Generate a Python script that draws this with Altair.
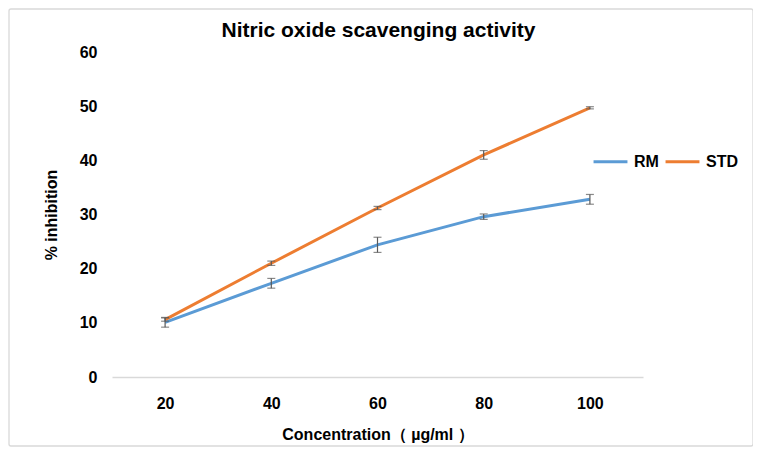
import altair as alt
import pandas as pd

conc = ["20", "40", "60", "80", "100"]
rm = [10.1, 17.3, 24.4, 29.6, 32.8]
rm_err = [0.9, 0.9, 1.4, 0.5, 0.9]
std = [10.6, 21.0, 31.2, 41.0, 49.7]
std_err = [0.3, 0.4, 0.3, 0.8, 0.2]
title_text = "Nitric oxide scavenging activity"

rows = []
for c, v, e in zip(conc, rm, rm_err):
    rows.append({"conc": c, "series": "RM", "value": v, "lo": v - e, "hi": v + e})
for c, v, e in zip(conc, std, std_err):
    rows.append({"conc": c, "series": "STD", "value": v, "lo": v - e, "hi": v + e})
df = pd.DataFrame(rows)

W, H = 531, 325
FONT = "Liberation Sans"

xenc = alt.X("conc:N", sort=conc, scale=alt.Scale(type="point", padding=0.5),
             axis=alt.Axis(title="Concentration\uff08 \u00b5g/ml \uff09", labelAngle=0,
                           domainColor="#D9D9D9", domainWidth=1.3, ticks=False,
                           labelPadding=18, titlePadding=15, labelFontSize=16,
                           labelFontWeight="bold", titleFontSize=16, titleFontWeight="bold",
                           labelFont=FONT, titleFont=FONT, labelColor="#000", titleColor="#000"))

yscale = alt.Scale(domain=[0, 60], nice=False)
yenc = alt.Y("value:Q", scale=yscale,
             axis=alt.Axis(title="% inhibition", values=[0, 10, 20, 30, 40, 50, 60],
                           domain=False, ticks=False, grid=False, labelPadding=15,
                           titlePadding=20, labelFontSize=16, labelFontWeight="bold",
                           titleFontSize=16, titleFontWeight="bold",
                           labelFont=FONT, titleFont=FONT, labelColor="#000", titleColor="#000"))

color = alt.Color("series:N", scale=alt.Scale(domain=["RM", "STD"], range=["#5B9BD5", "#ED7D31"]),
                  legend=alt.Legend(title=None, orient="none", legendX=480, legendY=91,
                                    direction="horizontal", symbolType="stroke",
                                    symbolStrokeWidth=3, symbolSize=1150, labelFontSize=16,
                                    labelFontWeight="bold", labelFont=FONT, labelColor="#000",
                                    columnPadding=0, labelOffset=5))

border = alt.Chart(pd.DataFrame({"a": [0]})).mark_rect(
    fill=None, stroke="#D9D9D9", strokeWidth=1.3, cornerRadius=2
).encode(x=alt.value(-103), x2=alt.value(641), y=alt.value(-43), y2=alt.value(394))

title = alt.Chart(pd.DataFrame({"t": [title_text]})).mark_text(
    fontSize=21, fontWeight="bold", font=FONT, color="#000", baseline="alphabetic", align="center"
).encode(text="t:N", x=alt.value(W / 2 + 1), y=alt.value(-15))

lines = alt.Chart(df).mark_line(strokeWidth=3).encode(x=xenc, y=yenc, color=color)

err = alt.Chart(df).mark_rule(color="#595959", strokeWidth=1.2).encode(
    x=alt.X("conc:N", sort=conc), y=alt.Y("lo:Q", scale=yscale), y2="hi:Q")
cap_lo = alt.Chart(df).mark_tick(color="#595959", thickness=1.2, size=8, orient="horizontal").encode(
    x=alt.X("conc:N", sort=conc), y=alt.Y("lo:Q", scale=yscale))
cap_hi = alt.Chart(df).mark_tick(color="#595959", thickness=1.2, size=8, orient="horizontal").encode(
    x=alt.X("conc:N", sort=conc), y=alt.Y("hi:Q", scale=yscale))

chart = alt.layer(border, title, lines, err, cap_lo, cap_hi).properties(
    width=W, height=H,
    autosize=alt.AutoSizeParams(type="none"),
    padding={"left": 104, "top": 44, "right": 110, "bottom": 70},
).configure(background="white").configure_view(stroke=None)

chart.save("out.html", embed_options={"renderer": "svg", "actions": False})
